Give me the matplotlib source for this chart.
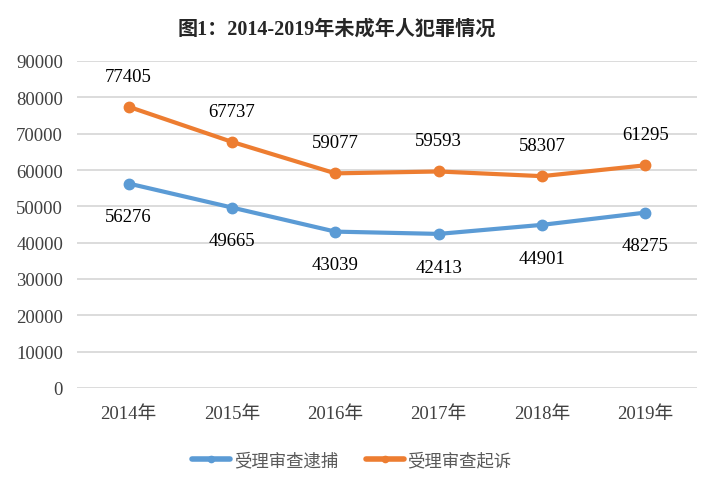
import matplotlib
matplotlib.use("Agg")
import matplotlib.pyplot as plt

categories = ["2014年", "2015年", "2016年", "2017年", "2018年", "2019年"]
arrest = [56276, 49665, 43039, 42413, 44901, 48275]
prosecute = [77405, 67737, 59077, 59593, 58307, 61295]
series_names = ["受理审查逮捕", "受理审查起诉"]
yticks = list(range(0, 90001, 10000))

FONT = ["Liberation Serif", "Noto Sans CJK SC"]
plt.rcParams["font.family"] = FONT

fig = plt.figure(figsize=(7.15, 4.89), dpi=100)
ax = fig.add_axes([77/715, 1-389/489, 620/715, 327/489])

x = list(range(len(categories)))
blue = "#5B9BD5"
orange = "#ED7D31"
ax.plot(x, arrest, color=blue, lw=3, marker="o", ms=7.5, label=series_names[0], solid_capstyle="round", zorder=3)
ax.plot(x, prosecute, color=orange, lw=3, marker="o", ms=7.5, label=series_names[1], solid_capstyle="round", zorder=3)

for xi, v in zip(x, arrest):
    ax.annotate(str(v), (xi, v), xytext=(0, -24), textcoords="offset points",
                ha="center", va="center", fontsize=13.5, color="black")
for xi, v in zip(x, prosecute):
    ax.annotate(str(v), (xi, v), xytext=(0, 22), textcoords="offset points",
                ha="center", va="center", fontsize=13.5, color="black")

ax.set_xlim(-0.5, len(categories) - 0.5)
ax.set_ylim(0, 90000)
ax.set_yticks(yticks)
ax.set_yticklabels([str(t) for t in yticks], fontsize=13.5, color="#404040")
ax.set_xticks(x)
ax.set_xticklabels(categories, fontsize=13.5, color="#404040")
ax.tick_params(length=0, pad=10)
ax.tick_params(axis="x", pad=12)
for s in ax.spines.values():
    s.set_visible(False)
ax.grid(axis="y", color="#D9D9D9", lw=1.3)
ax.set_axisbelow(True)

fig.text(337/715, 1-30/489, "图1：2014-2019年未成年人犯罪情况", ha="center", va="center",
         fontsize=14.5, fontweight="bold", color="#262626")

leg = fig.legend(loc="center", bbox_to_anchor=(352/715, 1-462/489), ncol=2, frameon=False,
                 fontsize=12.5, handlelength=2.2, columnspacing=1.6, handletextpad=0.2,
                 markerscale=0.6)
for t in leg.get_texts():
    t.set_color("#595959")
for h in leg.legend_handles:
    h.set_linewidth(4)

fig.savefig("out.png", dpi=100)
